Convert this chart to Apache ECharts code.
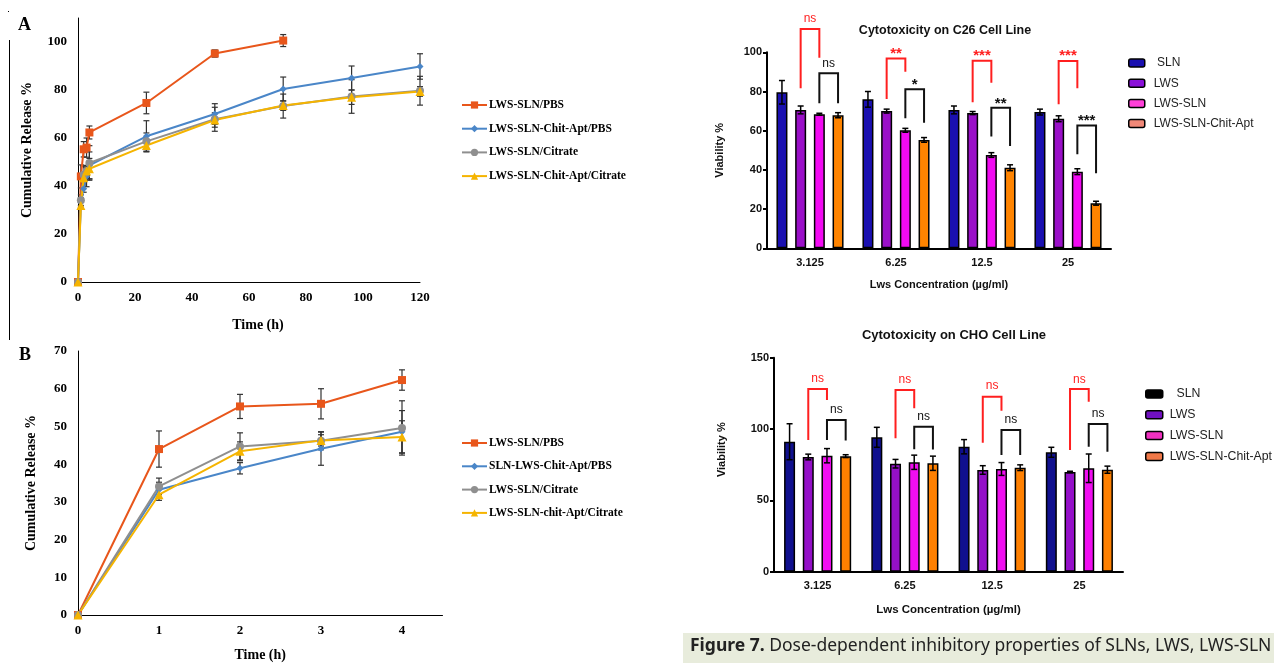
<!DOCTYPE html>
<html><head><meta charset="utf-8">
<script src="https://cdn.jsdelivr.net/npm/echarts@6/dist/echarts.min.js"></script>
<style>html,body{margin:0;padding:0;background:#fff}#c{width:1274px;height:663px}</style>
</head><body><div id="c"></div><script>
// ---------- Panel A: release 0-120 h ----------
const namesA = ['LWS-SLN/PBS','LWS-SLN-Chit-Apt/PBS','LWS-SLN/Citrate','LWS-SLN-Chit-Apt/Citrate'];
const timeA = [0,1,2,3,4,24,48,72,96,120];
const pbsA = [0,44,55.3,56,62.3,74.6,95.2,100.6];
const pbsErrA = [0,4.8,3.2,4,2.7,4.5,1.5,2.5];
const chitPbsA = [0,33.2,38.9,44.1,48.6,60.7,70,80.4,85,89.8];
const chitPbsErrA = [0,2,1.5,4.4,5.6,6.5,4.3,5,5,5.3];
const citA = [0,34.1,44.7,46.2,49.6,58.6,67.8,73.3,77.3,79.7];
const citErrA = [0,2.2,3.6,2.4,7.2,3.5,5,5,7,6];
const chitCitA = [0,31.9,43.4,46.3,47.2,56.9,67.5,73.5,77,79.4];
const chitCitErrA = [0,1.5,2.5,1.5,4.3,2.5,3,2,3,2];
// ---------- Panel B: release 0-4 h ----------
const namesB = ['LWS-SLN/PBS','SLN-LWS-Chit-Apt/PBS','LWS-SLN/Citrate','LWS-SLN-chit-Apt/Citrate'];
const timeB = [0,1,2,3,4];
const pbsB = [0,44,55.3,56,62.3];
const pbsErrB = [0,4.8,3.2,4,2.7];
const chitPbsB = [0,33.2,38.9,44.1,48.6];
const chitPbsErrB = [0,2,1.5,4.4,5.6];
const citB = [0,34.1,44.7,46.2,49.6];
const citErrB = [0,2.2,3.6,2.4,7.2];
const chitCitB = [0,31.9,43.4,46.3,47.2];
const chitCitErrB = [0,1.5,2.5,1.5,4.3];
// ---------- Panel C: C26 viability ----------
const concentrations = ['3.125','6.25','12.5','25'];
const barNames = ['SLN','LWS','LWS-SLN','LWS-SLN-Chit-Apt'];
const c26SLN = [79.6,76,70.6,69.5];        const c26SLNErr = [6,4,2,1.5];
const c26LWS = [70.6,70,69,66.1];          const c26LWSErr = [2,1,0.8,1.5];
const c26LWSSLN = [68.4,60.2,47.6,39.1];   const c26LWSSLNErr = [0.5,1,1.2,1.5];
const c26Chit = [67.9,55.3,41.1,23];       const c26ChitErr = [1.3,1.2,1.5,1];
// bracket: [group, fromBar, toBar, leftEnd, rightEnd, top, labelY, label, colour]
const c26Brackets = [
  [0,1,2,81.6,97.2,111.9,117.3,'ns','red'],
  [0,2,3,74,74,89.3,94.3,'ns','black'],
  [1,1,2,76.2,90.1,96.9,102,'**','red'],
  [1,2,3,66.3,64.1,81.1,85.9,'*','black'],
  [2,1,2,74.5,84.5,95.7,100.8,'***','red'],
  [2,2,3,57,52.2,71.7,76.5,'**','black'],
  [3,1,2,73.5,81.6,95.6,100.6,'***','red'],
  [3,2,3,48,38.3,62.6,67.6,'***','black']
];
// ---------- Panel D: CHO viability ----------
const choSLN = [91.1,94.2,87.6,83.7];      const choSLNErr = [12.6,7,5,3.5];
const choLWS = [80.4,75.7,71.3,69.9];      const choLWSErr = [2,3,3,0.5];
const choLWSSLN = [81.3,76.7,72,72.5];     const choLWSSLNErr = [5,5,4.5,10];
const choChit = [81,76,72.9,71.5];         const choChitErr = [1,5,2,2.5];
const choBrackets = [
  [0,1,2,92.3,120.3,128,135.5,'ns','red'],
  [0,2,3,92.3,91.9,106.3,113.3,'ns','black'],
  [1,1,2,93.5,114.5,127.3,134.8,'ns','red'],
  [1,2,3,85.8,85.7,101.6,108.6,'ns','black'],
  [2,1,2,90.4,112.8,122.6,130.1,'ns','red'],
  [2,2,3,81.8,81.8,99.3,106.3,'ns','black'],
  [3,1,2,85.3,119.1,128,134.8,'ns','red'],
  [3,2,3,87.6,84,103.5,111,'ns','black']
];

// ---------- styling ----------
const SERIF = '"Liberation Serif", "Times New Roman", serif';
const SANS = '"Liberation Sans", Arial, sans-serif';
const lineColors = ['#e8561b','#4a86c8','#8f8f8f','#f5b400'];
const lineSymbols = ['rect','diamond','circle','triangle'];
const lineSymbolSizes = [8,7,8,9];
const barColorsC = ['#1a10b0','#9a10c8','#f20af2','#ff8400'];
const barColorsD = ['#10108e','#9410c8','#f00ef0','#ff8000'];
const legendColorsC = ['#1a10b0','#8a10d8','#ff40d8','#f08878'];
const legendColorsD = ['#000000','#7010c0','#f030c0','#f07848'];
const BAR_W = 11, BAR_STEP = 18.7;

const chart = echarts.init(document.getElementById('c'), null, {renderer:'canvas'});

function pairs(xs, ys){ return ys.map((v,i)=>[xs[i], v]); }
function triples(xs, ys, es){ return ys.map((v,i)=>[xs[i], v, es[i]]); }

function errLineRender(params, api){
  const x = api.value(0), y = api.value(1), e = api.value(2);
  if (!e) return;
  const hi = api.coord([x, y+e]), lo = api.coord([x, y-e]);
  const c = 3, st = {stroke:'#333', lineWidth:1.2};
  return {type:'group', children:[
    {type:'line', shape:{x1:hi[0],y1:hi[1],x2:lo[0],y2:lo[1]}, style:st},
    {type:'line', shape:{x1:hi[0]-c,y1:hi[1],x2:hi[0]+c,y2:hi[1]}, style:st},
    {type:'line', shape:{x1:lo[0]-c,y1:lo[1],x2:lo[0]+c,y2:lo[1]}, style:st}
  ]};
}
function errBarRender(barIdx){
  return function(params, api){
    const cat = api.value(0), y = api.value(1), e = api.value(2);
    const cx = api.coord([cat, y])[0] + (barIdx-1.5)*BAR_STEP;
    const hi = api.coord([cat, y+e])[1], lo = api.coord([cat, y-e])[1];
    const c = 3, st = {stroke:'#000', lineWidth:1.5};
    return {type:'group', children:[
      {type:'line', shape:{x1:cx,y1:hi,x2:cx,y2:lo}, style:st},
      {type:'line', shape:{x1:cx-c,y1:hi,x2:cx+c,y2:hi}, style:st},
      {type:'line', shape:{x1:cx-c,y1:lo,x2:cx+c,y2:lo}, style:st}
    ]};
  };
}
function bracketRender(list){
  return function(params, api){
    const b = list[api.value(2)];
    const cx = api.coord([b[0], 0])[0];
    const xl = cx + (b[1]-1.5)*BAR_STEP, xr = cx + (b[2]-1.5)*BAR_STEP;
    const yl = api.coord([b[0], b[3]])[1], yr = api.coord([b[0], b[4]])[1];
    const yt = api.coord([b[0], b[5]])[1], ylab = api.coord([b[0], b[6]])[1];
    const col = b[8] === 'red' ? '#ff1f1f' : '#111';
    const star = b[7].indexOf('*') >= 0;
    return {type:'group', children:[
      {type:'polyline', shape:{points:[[xl,yl],[xl,yt],[xr,yt],[xr,yr]]}, style:{stroke:col, fill:null, lineWidth:2}},
      {type:'text', x:(xl+xr)/2, y:ylab + (star?5:0), style:{text:b[7], fill:col, align:'center', verticalAlign:'middle',
        font:(star?'bold 15px ':'12px ') + SANS}}
    ]};
  };
}

const series = [];
// Panel A lines
const dataA = [[pbsA,pbsErrA],[chitPbsA,chitPbsErrA],[citA,citErrA],[chitCitA,chitCitErrA]];
dataA.forEach((d,i)=>{
  series.push({type:'custom', xAxisIndex:0, yAxisIndex:0, renderItem:errLineRender, clip:false, z:1, silent:true,
    data:triples(timeA, d[0], d[1])});
});
dataA.forEach((d,i)=>{
  series.push({type:'line', name:namesA[i], xAxisIndex:0, yAxisIndex:0, data:pairs(timeA, d[0]), z:3,
    symbol:lineSymbols[i], symbolSize:lineSymbolSizes[i], showAllSymbol:true,
    lineStyle:{color:lineColors[i], width:2}, itemStyle:{color:lineColors[i]}});
});
// Panel B lines
const dataB = [[pbsB,pbsErrB],[chitPbsB,chitPbsErrB],[citB,citErrB],[chitCitB,chitCitErrB]];
dataB.forEach((d,i)=>{
  series.push({type:'custom', xAxisIndex:1, yAxisIndex:1, renderItem:errLineRender, clip:false, z:1, silent:true,
    data:triples(timeB, d[0], d[1])});
});
dataB.forEach((d,i)=>{
  series.push({type:'line', name:namesB[i], xAxisIndex:1, yAxisIndex:1, data:pairs(timeB, d[0]), z:3,
    symbol:lineSymbols[i], symbolSize:lineSymbolSizes[i],
    lineStyle:{color:lineColors[i], width:2}, itemStyle:{color:lineColors[i]}});
});
// Panel C bars
const dataC = [[c26SLN,c26SLNErr],[c26LWS,c26LWSErr],[c26LWSSLN,c26LWSSLNErr],[c26Chit,c26ChitErr]];
dataC.forEach((d,i)=>{
  series.push({type:'bar', name:barNames[i], xAxisIndex:2, yAxisIndex:2, data:d[0], barWidth:BAR_W, barGap:'70%',
    itemStyle:{color:barColorsC[i], borderColor:'#000', borderWidth:1.5}});
});
dataC.forEach((d,i)=>{
  series.push({type:'custom', xAxisIndex:2, yAxisIndex:2, renderItem:errBarRender(i), clip:false, z:5, silent:true,
    data:d[0].map((v,k)=>[k, v, d[1][k]])});
});
series.push({type:'custom', xAxisIndex:2, yAxisIndex:2, renderItem:bracketRender(c26Brackets), clip:false, z:5, silent:true,
  data:c26Brackets.map((b,k)=>[b[0], b[5], k])});
// Panel D bars
const dataD = [[choSLN,choSLNErr],[choLWS,choLWSErr],[choLWSSLN,choLWSSLNErr],[choChit,choChitErr]];
dataD.forEach((d,i)=>{
  series.push({type:'bar', name:barNames[i], xAxisIndex:3, yAxisIndex:3, data:d[0], barWidth:BAR_W, barGap:'70%',
    itemStyle:{color:barColorsD[i], borderColor:'#000', borderWidth:1.5}});
});
dataD.forEach((d,i)=>{
  series.push({type:'custom', xAxisIndex:3, yAxisIndex:3, renderItem:errBarRender(i), clip:false, z:5, silent:true,
    data:d[0].map((v,k)=>[k, v, d[1][k]])});
});
series.push({type:'custom', xAxisIndex:3, yAxisIndex:3, renderItem:bracketRender(choBrackets), clip:false, z:5, silent:true,
  data:choBrackets.map((b,k)=>[b[0], b[5], k])});

const serifLabel = {color:'#000', fontFamily:SERIF, fontWeight:'bold', fontSize:13};
const sansLabel = {color:'#111', fontFamily:SANS, fontWeight:'bold', fontSize:11};
const blackLine = {show:true, lineStyle:{color:'#000', width:1}};
const thickLine = {show:true, lineStyle:{color:'#000', width:2}};

const option = {
  animation:false,
  backgroundColor:'#fff',
  grid:[
    {left:78, top:18, width:342, height:264},
    {left:78, top:351, width:364.5, height:264.3},
    {left:767, top:52.3, width:344, height:196},
    {left:774, top:357.7, width:349, height:214}
  ],
  xAxis:[
    {type:'value', gridIndex:0, min:0, max:120, interval:20, axisLine:blackLine, axisTick:{show:false}, splitLine:{show:false},
     axisLabel:Object.assign({margin:9}, serifLabel),
     name:'Time (h)', nameLocation:'middle', nameGap:36, nameTextStyle:{color:'#000', fontFamily:SERIF, fontWeight:'bold', fontSize:14, padding:[0,0,0,18]}},
    {type:'value', gridIndex:1, min:0, max:4.5, interval:1, axisLine:blackLine, axisTick:{show:false}, splitLine:{show:false},
     axisLabel:Object.assign({margin:9, showMaxLabel:false}, serifLabel),
     name:'Time (h)', nameLocation:'middle', nameGap:33, nameTextStyle:{color:'#000', fontFamily:SERIF, fontWeight:'bold', fontSize:14}},
    {type:'category', gridIndex:2, data:concentrations, axisLine:thickLine, axisTick:{show:false},
     axisLabel:Object.assign({margin:9}, sansLabel),
     name:'Lws Concentration (\u00b5g/ml)', nameLocation:'middle', nameGap:31, nameTextStyle:{color:'#111', fontFamily:SANS, fontWeight:'bold', fontSize:11}},
    {type:'category', gridIndex:3, data:concentrations, axisLine:thickLine, axisTick:{show:false},
     axisLabel:Object.assign({margin:9}, sansLabel),
     name:'Lws Concentration (\u00b5g/ml)', nameLocation:'middle', nameGap:32, nameTextStyle:{color:'#111', fontFamily:SANS, fontWeight:'bold', fontSize:11.5}}
  ],
  yAxis:[
    {type:'value', gridIndex:0, min:0, max:110, interval:20, axisLine:blackLine, axisTick:{show:false}, splitLine:{show:false},
     axisLabel:Object.assign({margin:11, showMaxLabel:false}, serifLabel),
     name:'Cumulative Release %', nameLocation:'middle', nameGap:44, nameRotate:90,
     nameTextStyle:{color:'#000', fontFamily:SERIF, fontWeight:'bold', fontSize:14}},
    {type:'value', gridIndex:1, min:0, max:70, interval:10, axisLine:blackLine, axisTick:{show:false}, splitLine:{show:false},
     axisLabel:Object.assign({margin:11}, serifLabel),
     name:'Cumulative Release %', nameLocation:'middle', nameGap:40, nameRotate:90,
     nameTextStyle:{color:'#000', fontFamily:SERIF, fontWeight:'bold', fontSize:14}},
    {type:'value', gridIndex:2, min:0, max:100, interval:20, axisLine:thickLine, axisTick:{show:true, length:4, lineStyle:{width:2, color:'#000'}}, splitLine:{show:false},
     axisLabel:Object.assign({margin:5}, sansLabel),
     name:'Viability %', nameLocation:'middle', nameGap:42, nameRotate:90,
     nameTextStyle:{color:'#111', fontFamily:SANS, fontWeight:'bold', fontSize:11}},
    {type:'value', gridIndex:3, min:0, max:150, interval:50, axisLine:thickLine, axisTick:{show:true, length:4, lineStyle:{width:2, color:'#000'}}, splitLine:{show:false},
     axisLabel:Object.assign({margin:5}, sansLabel),
     name:'Viability %', nameLocation:'middle', nameGap:47, nameRotate:90,
     nameTextStyle:{color:'#111', fontFamily:SANS, fontWeight:'bold', fontSize:11, padding:[0,0,0,30]}}
  ],
  title:[
    {text:'Cytotoxicity on C26 Cell Line', left:940, top:19, textAlign:'center',
     textStyle:{fontFamily:SANS, fontWeight:'bold', fontSize:12.5, color:'#111'}},
    {text:'Cytotoxicity on CHO Cell Line', left:949, top:324, textAlign:'center',
     textStyle:{fontFamily:SANS, fontWeight:'bold', fontSize:13, color:'#111'}}
  ],
  legend:[
    {data:namesA, orient:'vertical', left:456, top:93, itemWidth:25, itemHeight:9, itemGap:9.7, selectedMode:false,
     textStyle:{fontFamily:SERIF, fontWeight:'bold', fontSize:11.5, color:'#000', lineHeight:14, padding:[0,0,0,-3]}},
    {data:namesB, orient:'vertical', left:456, top:431, itemWidth:25, itemHeight:9, itemGap:9.3, selectedMode:false,
     textStyle:{fontFamily:SERIF, fontWeight:'bold', fontSize:11.5, color:'#000', lineHeight:14, padding:[0,0,0,-3]}},
    {data:barNames.map((n,i)=>({name:n, itemStyle:{color:legendColorsC[i], borderColor:'#000', borderWidth:1.5}})),
     orient:'vertical', left:1123, top:51, itemWidth:16, itemHeight:8, itemGap:6.2, selectedMode:false,
     formatter:n=> n==='SLN' ? ' SLN' : n,
     textStyle:{fontFamily:SANS, fontSize:12, color:'#222', lineHeight:14, padding:[0,0,0,4]}},
    {data:barNames.map((n,i)=>({name:n, itemStyle:{color:legendColorsD[i], borderColor:'#000', borderWidth:1.5}})),
     orient:'vertical', left:1140, top:382, itemWidth:17, itemHeight:8, itemGap:6.8, selectedMode:false,
     formatter:n=> n==='SLN' ? '  SLN' : n,
     textStyle:{fontFamily:SANS, fontSize:12.3, color:'#222', lineHeight:14, padding:[0,0,0,2]}}
  ],
  graphic:[
    {type:'text', left:18, top:16, style:{text:'A', font:'bold 18px '+SERIF, fill:'#000'}},
    {type:'text', left:19, top:346, style:{text:'B', font:'bold 18px '+SERIF, fill:'#000'}},
    {type:'rect', shape:{x:9, y:40, width:1, height:300}, style:{fill:'#000'}},
    {type:'rect', shape:{x:8, y:11, width:1, height:1}, style:{fill:'#000'}},
    {type:'rect', shape:{x:683, y:633, width:591, height:30}, style:{fill:'#e8ecdc'}},
    {type:'text', x:690, y:646, style:{
      text:'{b|Figure 7.} Dose-dependent inhibitory properties of SLNs, LWS, LWS-SLN',
      font:'17.5px "Noto Sans", sans-serif', fill:'#222', verticalAlign:'middle',
      rich:{b:{fontWeight:'bold', fontSize:17.5, fontFamily:'"Noto Sans", sans-serif', fill:'#222'}}}}
  ],
  series:series
};
chart.setOption(option);
</script></body></html>
